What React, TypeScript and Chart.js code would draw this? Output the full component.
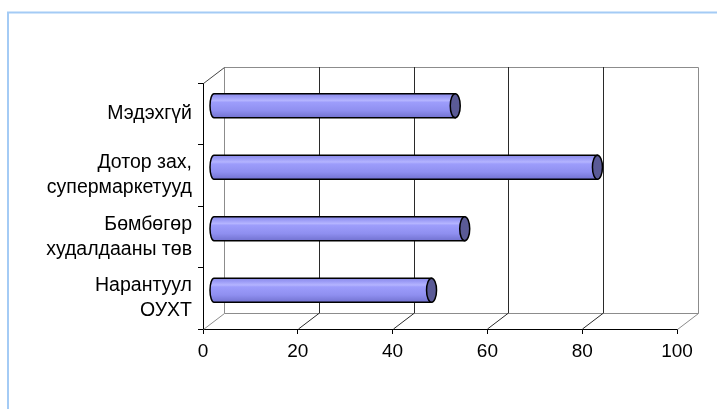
import React, { useEffect, useRef } from 'react';
import { Chart, registerables } from 'chart.js';

Chart.register(...registerables);

// Store categories, top to bottom
const categories: (string | string[])[] = [
  'Мэдэхгүй',
  ['Дотор зах,', 'супермаркетууд'],
  ['Бөмбөгөр', 'худалдааны төв'],
  ['Нарантуул', 'ОУХТ'],
];
const values = [51, 81, 53, 46];
const xMin = 0;
const xMax = 100;
const xStep = 20;

// Pseudo-3D depth of the plot box (back wall offset) and of the bars (mid-depth)
const DEPTH_X = 21;
const DEPTH_Y = -16;
const FONT = "'Liberation Sans', Arial, sans-serif";

const frame3d = {
  id: 'frame3d',
  beforeDraw(chart: any) {
    const ctx = chart.ctx;
    ctx.save();
    ctx.fillStyle = '#ffffff';
    ctx.fillRect(0, 0, chart.width, chart.height);
    ctx.strokeStyle = '#a4cbf5';
    ctx.lineWidth = 2;
    ctx.strokeRect(8, 12.5, chart.width + 20, chart.height + 20);
    ctx.restore();
  },
  beforeDatasetsDraw(chart: any) {
    const ctx = chart.ctx;
    const { left, right, top, bottom } = chart.chartArea;
    const xs = chart.scales.x;
    ctx.save();
    ctx.lineWidth = 1;

    // back wall outline
    ctx.strokeStyle = '#8c8c8c';
    ctx.beginPath();
    ctx.moveTo(left + DEPTH_X + 0.5, bottom + DEPTH_Y + 0.5);
    ctx.lineTo(left + DEPTH_X + 0.5, top + DEPTH_Y + 0.5);
    ctx.lineTo(right + DEPTH_X + 0.5, top + DEPTH_Y + 0.5);
    ctx.lineTo(right + DEPTH_X + 0.5, bottom + DEPTH_Y + 0.5);
    ctx.lineTo(left + DEPTH_X + 0.5, bottom + DEPTH_Y + 0.5);
    // floor edges at the ends
    ctx.moveTo(left + 0.5, bottom + 0.5);
    ctx.lineTo(left + DEPTH_X + 0.5, bottom + DEPTH_Y + 0.5);
    ctx.moveTo(right + 0.5, bottom + 0.5);
    ctx.lineTo(right + DEPTH_X + 0.5, bottom + DEPTH_Y + 0.5);
    ctx.stroke();

    // side wall top edge
    ctx.strokeStyle = '#444444';
    ctx.beginPath();
    ctx.moveTo(left + 0.5, top + 0.5);
    ctx.lineTo(left + DEPTH_X + 0.5, top + DEPTH_Y + 0.5);
    ctx.stroke();

    // interior gridlines on back wall and floor
    ctx.strokeStyle = '#2a2a2a';
    ctx.beginPath();
    for (let v = xMin + xStep; v < xMax; v += xStep) {
      const px = Math.round(xs.getPixelForValue(v)) + 0.5;
      ctx.moveTo(px + DEPTH_X, top + DEPTH_Y);
      ctx.lineTo(px + DEPTH_X, bottom + DEPTH_Y);
      ctx.moveTo(px, bottom);
      ctx.lineTo(px + DEPTH_X, bottom + DEPTH_Y);
    }
    ctx.stroke();
    ctx.restore();
  },
  afterDatasetsDraw(chart: any) {
    const ctx = chart.ctx;
    const meta = chart.getDatasetMeta(0);
    const ox = DEPTH_X / 2;
    const oy = DEPTH_Y / 2;
    ctx.save();
    meta.data.forEach((el: any) => {
      const { x, y, base, height } = el.getProps(['x', 'y', 'base', 'height'], true);
      const x0 = base + ox;
      const x1 = x + ox;
      const cy = y + oy;
      const r = height / 2;
      const t = cy - r;
      const b = cy + r;

      const g = ctx.createLinearGradient(0, t, 0, b);
      g.addColorStop(0, '#8a8ae8');
      g.addColorStop(0.14, '#9c9cf6');
      g.addColorStop(0.28, '#b4b4ff');
      g.addColorStop(0.36, '#9d9dfb');
      g.addColorStop(0.7, '#8f8ff0');
      g.addColorStop(1, '#7272d0');

      ctx.beginPath();
      ctx.moveTo(x0, t);
      ctx.lineTo(x1, t);
      ctx.lineTo(x1, b);
      ctx.lineTo(x0, b);
      ctx.ellipse(x0, cy, 4, r, 0, Math.PI / 2, Math.PI * 1.5);
      ctx.closePath();
      ctx.fillStyle = g;
      ctx.fill();
      ctx.lineWidth = 1.5;
      ctx.strokeStyle = '#000000';
      ctx.stroke();

      ctx.beginPath();
      ctx.ellipse(x1, cy, 5, r, 0, 0, Math.PI * 2);
      ctx.fillStyle = '#5a5a96';
      ctx.fill();
      ctx.stroke();
    });
    ctx.restore();
  },
};

export default function App() {
  const ref = useRef<HTMLCanvasElement | null>(null);

  useEffect(() => {
    document.body.style.margin = '0';
    const canvas = ref.current;
    if (!canvas) return;
    const chart = new Chart(canvas, {
      type: 'bar',
      data: {
        labels: categories,
        datasets: [
          {
            data: values,
            backgroundColor: 'rgba(0,0,0,0)',
            borderWidth: 0,
            barThickness: 24,
          },
        ],
      },
      options: {
        indexAxis: 'y',
        responsive: false,
        animation: false,
        devicePixelRatio: 1,
        layout: { padding: { top: 83, right: 40, left: 0, bottom: 0 } },
        plugins: {
          legend: { display: false },
          tooltip: { enabled: false },
        },
        scales: {
          x: {
            type: 'linear',
            min: xMin,
            max: xMax,
            ticks: {
              stepSize: xStep,
              color: '#000000',
              padding: 6,
              font: { family: FONT, size: 19 },
            },
            grid: {
              drawOnChartArea: false,
              drawTicks: true,
              tickLength: 5,
              tickColor: '#000000',
            },
            border: { display: true, color: '#000000', width: 1 },
            afterFit(scale: any) {
              scale.height = 80;
            },
          },
          y: {
            type: 'category',
            ticks: {
              color: '#000000',
              padding: 6,
              font: { family: FONT, size: 19.5, lineHeight: 1.28 },
            },
            grid: {
              drawOnChartArea: false,
              drawTicks: true,
              tickLength: 5,
              tickColor: '#000000',
              offset: true,
            },
            border: { display: true, color: '#000000', width: 1 },
            afterFit(scale: any) {
              scale.width = 203;
            },
          },
        },
      },
      plugins: [frame3d],
    });
    return () => chart.destroy();
  }, []);

  return (
    <div style={{ width: 717, height: 409, position: 'relative' }}>
      <canvas ref={ref} width={717} height={409} style={{ display: 'block' }} />
    </div>
  );
}
